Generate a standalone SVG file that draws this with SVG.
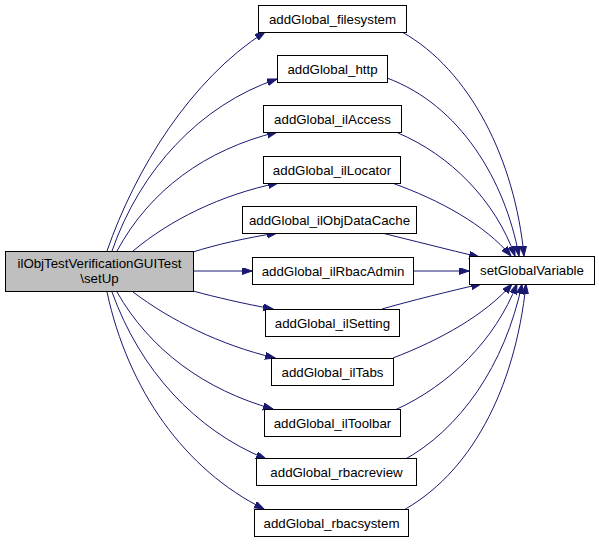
<svg xmlns="http://www.w3.org/2000/svg" width="599" height="544" viewBox="0 0 599 544">
<style>
.n rect{fill:#fff;stroke:#000;stroke-width:1}
.n.root rect{fill:#bfbfbf}
.n text{font-family:"Liberation Sans",Arial,sans-serif;font-size:13.3px;text-anchor:middle;fill:#000}
.e path{fill:none;stroke:#191970;stroke-width:1;marker-end:url(#ah)}
</style>
<defs>
<marker id="ah" markerUnits="userSpaceOnUse" markerWidth="11" markerHeight="8" refX="10" refY="3.5" orient="auto">
<path d="M0,0 L10,3.5 L0,7 Z" fill="#191970" stroke="#191970"/>
</marker>
</defs>
<rect width="599" height="544" fill="#fff"/>
<g id="edges" class="e">
<path d="M107,251 C135,170 190,80 265,32"/>
<path d="M112,251 C140,170 200,105 277,79"/>
<path d="M117,251 C150,190 205,150 277,132"/>
<path d="M133,251 C170,220 220,195 278,183"/>
<path d="M193,252 C215,245 245,238 277,233"/>
<path d="M193,271 L252,271"/>
<path d="M193,291 C215,297 245,304 273,309"/>
<path d="M133,292 C170,320 220,345 275,358"/>
<path d="M117,292 C150,350 205,390 273,409"/>
<path d="M112,292 C140,370 195,430 266,459"/>
<path d="M107,292 C128,390 185,470 264,509"/>
<path d="M402,32 C470,70 515,160 524,256"/>
<path d="M387,78 C460,105 505,180 519,256"/>
<path d="M398,133 C450,155 495,200 515,256"/>
<path d="M392,183 C440,200 485,225 511,256"/>
<path d="M382,233 C410,240 450,250 479,257"/>
<path d="M413,271 L469,271"/>
<path d="M382,309 C410,301 450,291 481,284"/>
<path d="M393,358 C440,340 485,315 512,284"/>
<path d="M395,410 C450,385 495,340 517,284"/>
<path d="M402,461 C460,430 505,365 522,284"/>
<path d="M400,512 C470,475 515,390 526,284"/>
</g>
<g id="root" class="n root"><rect x="5.5" y="251.5" width="188" height="40"/><text x="99.5" y="268">ilObjTestVerificationGUITest</text><text x="99.5" y="283">\setUp</text></g>
<g id="filesystem" class="n"><rect x="258.5" y="5.5" width="148" height="27"/><text x="332.5" y="23.5">addGlobal_filesystem</text></g>
<g id="http" class="n"><rect x="277.5" y="55.5" width="110" height="27"/><text x="332.5" y="73.5">addGlobal_http</text></g>
<g id="ilAccess" class="n"><rect x="263.5" y="105.5" width="138" height="27"/><text x="332.5" y="123.5">addGlobal_ilAccess</text></g>
<g id="ilLocator" class="n"><rect x="263.5" y="156.5" width="137" height="27"/><text x="332" y="174.5">addGlobal_ilLocator</text></g>
<g id="ilObjDataCache" class="n"><rect x="242.5" y="206.5" width="174" height="27"/><text x="329.5" y="224.5">addGlobal_ilObjDataCache</text></g>
<g id="ilRbacAdmin" class="n"><rect x="252.5" y="257.5" width="161" height="27"/><text x="333" y="275.5">addGlobal_ilRbacAdmin</text></g>
<g id="ilSetting" class="n"><rect x="265.5" y="309.5" width="134" height="27"/><text x="332.5" y="327.5">addGlobal_ilSetting</text></g>
<g id="ilTabs" class="n"><rect x="271.5" y="358.5" width="122" height="27"/><text x="332.5" y="376.5">addGlobal_ilTabs</text></g>
<g id="ilToolbar" class="n"><rect x="264.5" y="409.5" width="136" height="27"/><text x="332.5" y="427.5">addGlobal_ilToolbar</text></g>
<g id="rbacreview" class="n"><rect x="256.5" y="458.5" width="160" height="27"/><text x="336.5" y="476.5">addGlobal_rbacreview</text></g>
<g id="rbacsystem" class="n"><rect x="254.5" y="509.5" width="154" height="27"/><text x="331.5" y="527.5">addGlobal_rbacsystem</text></g>
<g id="setGlobalVariable" class="n"><rect x="469.5" y="256.5" width="125" height="28"/><text x="532" y="275">setGlobalVariable</text></g>
</svg>
